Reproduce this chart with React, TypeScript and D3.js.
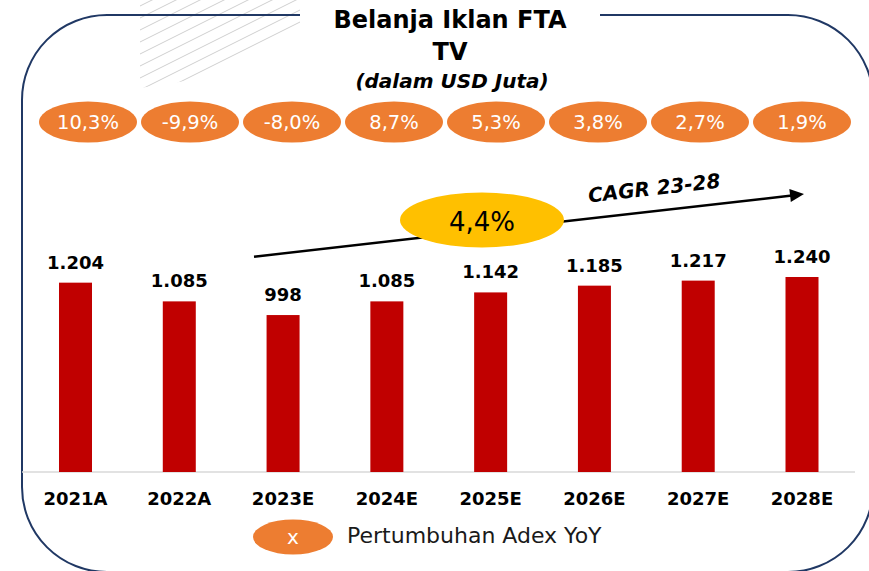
import React from "react";
import * as d3 from "d3";

const categories = ["2021A", "2022A", "2023E", "2024E", "2025E", "2026E", "2027E", "2028E"];
const values = [1204, 1085, 998, 1085, 1142, 1185, 1217, 1240];
const valueLabels = ["1.204", "1.085", "998", "1.085", "1.142", "1.185", "1.217", "1.240"];
const growthLabels = ["10,3%", "-9,9%", "-8,0%", "8,7%", "5,3%", "3,8%", "2,7%", "1,9%"];
const cagrLabel = "4,4%";
const cagrTitle = "CAGR 23-28";
const legendLabel = "Pertumbuhan Adex YoY";

const W = 869;
const H = 571;
const FONT = "'DejaVu Sans', Verdana, sans-serif";

export default function App() {
  const x = d3.scalePoint<string>().domain(categories).range([75.5, 802]);
  const xg = d3.scalePoint<string>().domain(categories).range([88, 802]);
  const baseY = 472;
  const y = d3.scaleLinear().domain([0, 1240]).range([baseY, 277]);
  const barW = 33;

  // border path with gap for title
  const L = 22, T = 15, R = 873, B = 572, r = 85;
  const border = d3.path();
  border.moveTo(300, T);
  border.lineTo(L + r, T);
  border.arcTo(L, T, L, T + r, r);
  border.lineTo(L, B - r);
  border.arcTo(L, B, L + r, B, r);
  border.lineTo(R - r, B);
  border.arcTo(R, B, R, B - r, r);
  border.lineTo(R, T + r);
  border.arcTo(R, T, R - r, T, r);
  border.lineTo(600, T);

  // hatch lines
  const hatch: string[] = [];
  for (let k = -10; k < 20; k++) {
    const y0 = k * 12;
    hatch.push(`M130,${y0 + 95} L330,${y0 - 5}`);
  }

  // CAGR arrow
  const a0: [number, number] = [254, 256.7];
  const a1: [number, number] = [792, 195.5];
  const ang = Math.atan2(a1[1] - a0[1], a1[0] - a0[0]);
  const tip: [number, number] = [804, 194];
  const hl = 14, hw = 6.5;
  const bx = tip[0] - hl * Math.cos(ang), by = tip[1] - hl * Math.sin(ang);
  const head = `M${tip[0]},${tip[1]} L${bx - hw * Math.sin(ang)},${by + hw * Math.cos(ang)} L${bx + hw * Math.sin(ang)},${by - hw * Math.cos(ang)} Z`;
  const angDeg = (ang * 180) / Math.PI;

  return (
    <svg width={W} height={H} style={{ position: "absolute", left: 0, top: 0, background: "#fff" }}>
      <defs>
        <clipPath id="hclip">
          <polygon points="140,0 300,0 300,25 205,78 140,88" />
        </clipPath>
      </defs>
      <g clipPath="url(#hclip)">
        {hatch.map((d, i) => (
          <path key={i} d={d} stroke="#cfcfcf" strokeWidth={1} fill="none" />
        ))}
      </g>
      <path d={border.toString()} fill="none" stroke="#203864" strokeWidth={2} />

      <text x={450} y={28} textAnchor="middle" fontFamily={FONT} fontWeight="bold" fontSize={24} fill="#000">
        Belanja Iklan FTA
      </text>
      <text x={450} y={60} textAnchor="middle" fontFamily={FONT} fontWeight="bold" fontSize={24} fill="#000">
        TV
      </text>
      <text x={452} y={88} textAnchor="middle" fontFamily={FONT} fontWeight="bold" fontStyle="italic" fontSize={20} fill="#000">
        (dalam USD Juta)
      </text>

      {categories.map((c, i) => (
        <g key={"g" + c}>
          <ellipse cx={xg(c)} cy={122} rx={49} ry={20.5} fill="#ed7d31" />
          <text x={xg(c)} y={129} textAnchor="middle" fontFamily={FONT} fontSize={19.5} fill="#fff">
            {growthLabels[i]}
          </text>
        </g>
      ))}

      <line x1={22} x2={855} y1={baseY} y2={baseY} stroke="#d9d9d9" strokeWidth={1.5} />

      {categories.map((c, i) => (
        <g key={"b" + c}>
          <rect x={(x(c) as number) - barW / 2} y={y(values[i])} width={barW} height={baseY - y(values[i])} fill="#c00000" />
          <text x={x(c)} y={y(values[i]) - 14} textAnchor="middle" fontFamily={FONT} fontWeight="bold" fontSize={18} fill="#000">
            {valueLabels[i]}
          </text>
          <text x={x(c)} y={505} textAnchor="middle" fontFamily={FONT} fontWeight="bold" fontSize={18} fill="#000">
            {c}
          </text>
        </g>
      ))}

      <line x1={a0[0]} y1={a0[1]} x2={a1[0]} y2={a1[1]} stroke="#000" strokeWidth={2.5} />
      <path d={head} fill="#000" />
      <text
        x={655}
        y={195}
        transform={`rotate(${angDeg} 655 195)`}
        textAnchor="middle"
        fontFamily={FONT}
        fontWeight="bold"
        fontStyle="italic"
        fontSize={20}
        fill="#000"
      >
        {cagrTitle}
      </text>
      <ellipse cx={482} cy={220} rx={82} ry={27.5} fill="#ffc000" />
      <text x={482} y={231} textAnchor="middle" fontFamily={FONT} fontSize={26} fill="#000">
        {cagrLabel}
      </text>

      <ellipse cx={293} cy={537} rx={40} ry={17.5} fill="#ed7d31" />
      <text x={293} y={544} textAnchor="middle" fontFamily={FONT} fontSize={20} fill="#fff">
        x
      </text>
      <text x={347} y={543} fontFamily={FONT} fontSize={22} fill="#1a1a1a">
        {legendLabel}
      </text>
    </svg>
  );
}
